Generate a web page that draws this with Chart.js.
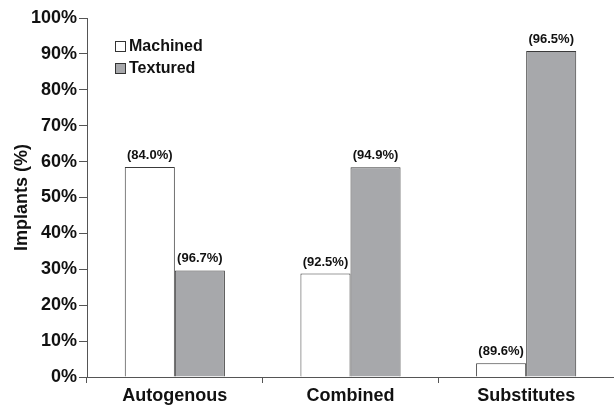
<!DOCTYPE html>
<html>
<head>
<meta charset="utf-8">
<script src="https://cdn.jsdelivr.net/npm/chart.js@4"></script>
<style>
  html, body { margin: 0; padding: 0; background: #fff; }
  #wrap { width: 614px; height: 406px; position: relative; }
</style>
</head>
<body>
<div id="wrap"><canvas id="barChart"></canvas></div>
<script>
// categories and series values (percent of implants)
const categories = ["Autogenous", "Combined", "Substitutes"];
const machined = [58.5, 28.8, 3.8];
const textured = [29.7, 58.4, 90.8];
// survival rates printed above each bar
const machinedLabels = ["(84.0%)", "(92.5%)", "(89.6%)"];
const texturedLabels = ["(96.7%)", "(94.9%)", "(96.5%)"];

const FONT = "'Liberation Sans', Arial, sans-serif";

// value labels above bars
const barLabels = {
  id: "barLabels",
  afterDatasetsDraw(chart) {
    const ctx = chart.ctx;
    const texts = [machinedLabels, texturedLabels];
    ctx.save();
    ctx.font = "bold 13px " + FONT;
    ctx.fillStyle = "#111";
    ctx.textAlign = "center";
    ctx.textBaseline = "bottom";
    chart.data.datasets.forEach((ds, i) => {
      chart.getDatasetMeta(i).data.forEach((bar, j) => {
        ctx.fillText(texts[i][j], bar.x, bar.y - 5);
      });
    });
    ctx.restore();
  },
};

// small legend inside the plot, top left
const boxLegend = {
  id: "boxLegend",
  afterDraw(chart) {
    const ctx = chart.ctx;
    const left = chart.chartArea.left + 28;
    let y = 47;
    ctx.save();
    ctx.font = "bold 16px " + FONT;
    ctx.textBaseline = "middle";
    chart.data.datasets.forEach((ds) => {
      ctx.fillStyle = ds.backgroundColor;
      ctx.fillRect(left + 0.5, y - 5.5, 10, 10);
      ctx.strokeStyle = "#333";
      ctx.lineWidth = 1;
      ctx.strokeRect(left + 0.5, y - 5.5, 10, 10);
      ctx.fillStyle = "#111";
      ctx.fillText(ds.label, left + 14, y);
      y += 22;
    });
    ctx.restore();
  },
};

const ctx = document.getElementById("barChart").getContext("2d");
const chart = new Chart(ctx, {
  type: "bar",
  data: {
    labels: categories,
    datasets: [
      {
        label: "Machined",
        data: machined,
        backgroundColor: "#ffffff",
        borderColor: "#3a3a3a",
        borderWidth: 1,
      },
      {
        label: "Textured",
        data: textured,
        backgroundColor: "#a7a8ab",
        borderColor: "#3a3a3a",
        borderWidth: 1,
      },
    ],
  },
  options: {
    responsive: true,
    maintainAspectRatio: false,
    animation: false,
    categoryPercentage: 0.57,
    barPercentage: 1.0,
    layout: { padding: { top: 18, right: 0, left: 0, bottom: 0 } },
    plugins: {
      legend: { display: false },
      tooltip: { enabled: false },
    },
    scales: {
      x: {
        grid: {
          offset: true,
          drawOnChartArea: false,
          drawTicks: true,
          tickLength: 6,
          color: "#555",
        },
        border: { color: "#555", width: 1 },
        ticks: {
          font: { family: FONT, size: 18, weight: "bold" },
          color: "#111",
          padding: 2,
        },
        afterFit: (scale) => { scale.height = 29; },
      },
      y: {
        min: 0,
        max: 100,
        grid: {
          drawOnChartArea: false,
          drawTicks: true,
          tickLength: 8,
          color: "#555",
        },
        border: { color: "#555", width: 1 },
        ticks: {
          stepSize: 10,
          callback: (v) => v + "%",
          font: { family: FONT, size: 18, weight: "bold" },
          color: "#111",
          padding: 2,
        },
        title: {
          display: true,
          text: "Implants (%)",
          font: { family: FONT, size: 18, weight: "bold" },
          color: "#111",
          padding: { top: 11, bottom: 0 },
        },
        afterFit: (scale) => { scale.width = 87; },
      },
    },
  },
  plugins: [barLabels, boxLegend],
});
</script>
</body>
</html>
